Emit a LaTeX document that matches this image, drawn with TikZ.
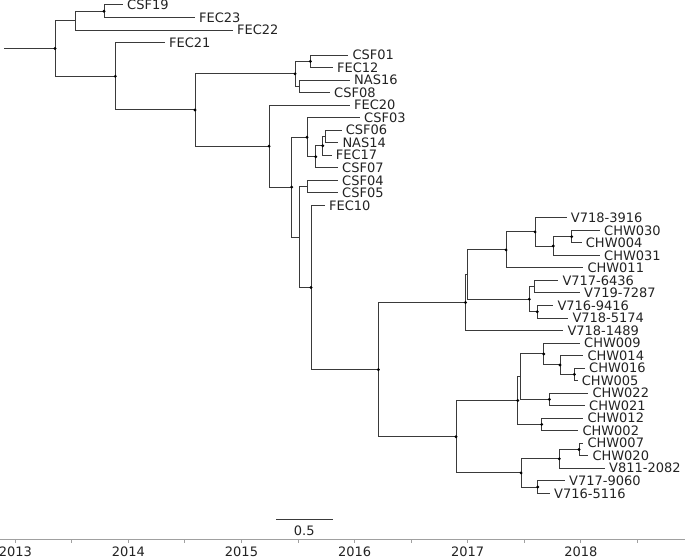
\documentclass[tikz,border=0pt]{standalone}
\usepackage{fontspec}
\setmainfont{DejaVu Sans}
\usepackage{xcolor}
\definecolor{BranchGray}{HTML}{3A3A3A}
\definecolor{AxisGray}{HTML}{A0A0A0}
\definecolor{LabelGray}{HTML}{222222}
\usepackage{tikz}

\begin{document}
\begin{tikzpicture}[x=1pt,y=-1pt,
  branch/.style={draw=BranchGray,line width=1pt},
  leaf/.style={anchor=west,inner xsep=4pt,inner ysep=1pt,text=LabelGray,font=\fontsize{13}{15}\selectfont},
  yearlab/.style={inner sep=1pt,text=LabelGray,font=\fontsize{13}{15}\selectfont},
  axisline/.style={draw=AxisGray,line width=1pt}
]
  \useasboundingbox (0,0) rectangle (685,559);

  \foreach \n/\lab/\e [count=\i from 0] in {
    csf19/CSF19/123, fec23/FEC23/195, fec22/FEC22/233, fec21/FEC21/165,
    csf01/CSF01/348.3, fec12/FEC12/333, nas16/NAS16/350, csf08/CSF08/330,
    fec20/FEC20/350, csf03/CSF03/360, csf06/CSF06/341.7, nas14/NAS14/338.3,
    fec17/FEC17/331.7, csf07/CSF07/338, csf04/CSF04/338, csf05/CSF05/338,
    fec10/FEC10/325, v7183916/V718-3916/566.7, chw030/CHW030/600, chw004/CHW004/581.7,
    chw031/CHW031/600, chw011/CHW011/583.3, v7176436/V717-6436/558.3, v7197287/V719-7287/580,
    v7169416/V716-9416/553.3, v7185174/V718-5174/568.3, v7181489/V718-1489/563.3, chw009/CHW009/580,
    chw014/CHW014/583.3, chw016/CHW016/585, chw005/CHW005/577.7, chw022/CHW022/588.3,
    chw021/CHW021/585, chw012/CHW012/583.3, chw002/CHW002/578.3, chw007/CHW007/583.3,
    chw020/CHW020/588.3, v8112082/V811-2082/605, v7179060/V717-9060/565, v7165116/V716-5116/550}
    \node[leaf] (\n) at (\e,5+12.52*\i) {\lab};

  \coordinate (stem) at (4,48.45);
  \coordinate (r0) at (55,48.45);
  \coordinate (a1) at (75.7,20.6);
  \coordinate (b1) at (104,11.25);
  \coordinate (c1) at (115.3,76.3);
  \coordinate (d1) at (195,110);
  \coordinate (e1) at (295,73.85);
  \coordinate (e2) at (310.3,61.35);
  \coordinate (e3) at (299.3,86.35);
  \coordinate (f1) at (269,146.15);
  \coordinate (g1) at (291.7,187.1);
  \coordinate (i1) at (307,137.25);
  \coordinate (j2) at (315.7,156.8);
  \coordinate (j3) at (322.7,145.8);
  \coordinate (j4) at (325,136.45);
  \coordinate (k1) at (299.3,237);
  \coordinate (l1) at (307.7,186.55);
  \coordinate (m1) at (311,287.45);
  \coordinate (n1) at (378.3,369.6);
  \coordinate (o1) at (465.5,302.5);
  \coordinate (o2) at (467.7,274.55);
  \coordinate (q1) at (506,249.9);
  \coordinate (t1) at (535,231.9);
  \coordinate (u1) at (553.3,246);
  \coordinate (w1) at (571.7,236.65);
  \coordinate (s1) at (529.3,299.2);
  \coordinate (x1) at (534.3,286.7);
  \coordinate (y1) at (537.3,311.75);
  \coordinate (p1) at (456,436.7);
  \coordinate (z1) at (517.7,400.5);
  \coordinate (z2) at (520,376.65);
  \coordinate (bb) at (543.7,353.95);
  \coordinate (ee) at (560,364.95);
  \coordinate (ff) at (574.3,374.35);
  \coordinate (cc) at (549.3,399.35);
  \coordinate (dd) at (541.7,424.4);
  \coordinate (aa) at (521,472.9);
  \coordinate (gg) at (559.3,458.8);
  \coordinate (hh) at (579,449.45);
  \coordinate (ii) at (537.7,487.05);

  \draw[branch] (stem) -- (r0);
  \foreach \p/\c in {r0/a1, r0/c1, a1/b1, a1/fec22, b1/csf19, b1/fec23,
    c1/fec21, c1/d1, d1/e1, d1/f1, e1/e2, e1/e3, e2/csf01, e2/fec12,
    e3/nas16, e3/csf08, f1/fec20, f1/g1, g1/i1, g1/k1, i1/csf03, i1/j2,
    j2/j3, j2/csf07, j3/j4, j3/fec17, j4/csf06, j4/nas14, k1/l1, k1/m1,
    l1/csf04, l1/csf05, m1/fec10, m1/n1, n1/o1, n1/p1, o1/o2, o1/v7181489,
    o2/q1, o2/s1, q1/t1, q1/chw011, t1/v7183916, t1/u1, u1/w1, u1/chw031,
    w1/chw030, w1/chw004, s1/x1, s1/y1, x1/v7176436, x1/v7197287,
    y1/v7169416, y1/v7185174, p1/z1, p1/aa, z1/z2, z1/dd, z2/bb, z2/cc,
    bb/chw009, bb/ee, ee/chw014, ee/ff, ff/chw016, ff/chw005,
    cc/chw022, cc/chw021, dd/chw012, dd/chw002, aa/gg, aa/ii,
    gg/hh, gg/v8112082, hh/chw007, hh/chw020, ii/v7179060, ii/v7165116}
    \draw[branch] (\p) |- (\c);

  \foreach \n in {r0,b1,c1,d1,e1,e2,f1,g1,i1,j2,j3,m1,n1,o1,q1,t1,u1,w1,
    s1,y1,p1,z1,bb,ee,ff,cc,dd,aa,gg,hh,ii}
    \fill (\n) circle (1.6);

  \coordinate (barl) at (276,519);
  \coordinate (barr) at (332.6,519);
  \draw[branch] (barl) -- (barr);
  \node[yearlab] (barlab) at (304.3,531) {0.5};

  \coordinate (axl) at (0,539.5);
  \coordinate (axr) at (685,539.5);
  \draw[axisline] (axl) -- (axr);
  \foreach \yr [count=\k from 0] in {2013,2014,2015,2016,2017,2018} {
    \draw[axisline] (15.3+113.1*\k,539.5) -- ++(0,3);
    \draw[axisline] (71.85+113.1*\k,539.5) -- ++(0,3);
    \node[yearlab] (y\yr) at (15.3+113.1*\k,552) {\yr};
  }
\end{tikzpicture}
\end{document}
